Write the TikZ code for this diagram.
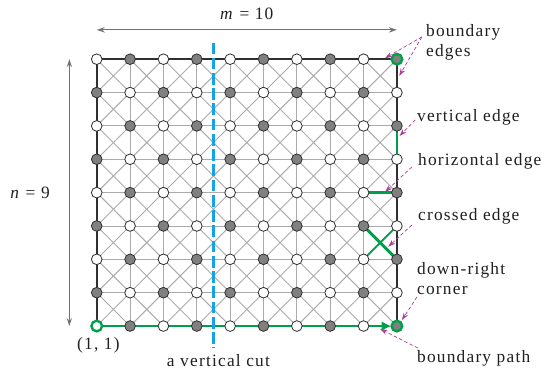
\documentclass[tikz,border=0pt]{standalone}
\usepackage{fontspec}
\setmainfont{Liberation Serif}
\newfontfamily\lblfont[LetterSpace=7]{Liberation Serif}
\usepackage{tikz}
\usetikzlibrary{calc,arrows.meta,positioning}
\definecolor{gridc}{HTML}{ABABAB}
\definecolor{vgray}{HTML}{808080}
\definecolor{inkc}{HTML}{303030}
\definecolor{textc}{HTML}{1F1F1F}
\definecolor{pathc}{HTML}{00A04B}
\definecolor{cutc}{HTML}{14A3E3}
\definecolor{notec}{HTML}{AC3F96}
\definecolor{dimc}{HTML}{727272}
\pgfdeclarelayer{bg}
\pgfsetlayers{bg,main}
\tikzset{
  vx/.style={circle,draw=inkc,line width=0.7pt,minimum size=3.2mm,inner sep=0pt,fill=white},
  vg/.style={vx,fill=vgray},
  ring/.style={draw=pathc,line width=2pt},
  gl/.style={gridc,line width=0.8pt},
  bd/.style={inkc,line width=2pt},
  gp/.style={pathc,line width=2.2pt},
  cut/.style={draw=cutc,line width=1.8pt,dash pattern=on 10pt off 3pt},
  pt/.style={-{Stealth[length=2.2mm,width=1.5mm]},notec,densely dashed,line width=0.6pt},
  dm/.style={{Stealth[length=2.4mm,width=1.6mm]}-{Stealth[length=2.4mm,width=1.6mm]},dimc,line width=1.1pt},
  lbl/.style={font=\lblfont\fontsize{14.8}{17}\selectfont,text=textc,inner sep=0pt,align=left}
}

\begin{document}
\begin{tikzpicture}[x=1cm,y=1cm]
\useasboundingbox (-2.9,-1.44) rectangle (13.35,9.775);
\foreach \i in {1,...,10}
  \foreach \j in {1,...,9} {
    \pgfmathtruncatemacro\pty{mod(\i+\j,2)}
    \ifnum\pty=0 \node[vx] (v-\i-\j) at (\i-1,\j-1) {};
    \else \node[vg] (v-\i-\j) at (\i-1,\j-1) {};
    \fi
  }
\node[vx,ring] (v-1-1) at (0,0) {};
\node[vg,ring] (v-10-1) at (9,0) {};
\node[vg,ring] (v-10-9) at (9,8) {};
\begin{pgfonlayer}{bg}
\foreach \j in {1,...,9} \draw[gl] (v-1-\j.center) -- (v-10-\j.center);
\foreach \i in {1,...,10} \draw[gl] (v-\i-1.center) -- (v-\i-9.center);
\foreach \i in {1,...,9}
  \foreach \j in {1,...,8} {
    \pgfmathtruncatemacro\inx{\i+1}
    \pgfmathtruncatemacro\jnx{\j+1}
    \draw[gl] (v-\i-\j.center) -- (v-\inx-\jnx.center);
    \draw[gl] (v-\inx-\j.center) -- (v-\i-\jnx.center);
  }
\draw[bd] (v-1-1.center) -- (v-1-9.center) -- (v-10-9.center) -- (v-10-1.center);
\draw[gp,-{Triangle[length=2.6mm,width=2.4mm]}] (v-1-1.center) -- (v-10-1);
\draw[gp] (v-10-7.center) -- (v-10-6.center);
\draw[gp] (v-9-5.center) -- (v-10-5.center);
\draw[gp,line width=2.6pt] (v-9-4.center) -- (v-10-3.center);
\draw[gp,line width=1.5pt] (v-10-4.center) -- (v-9-3.center);
\end{pgfonlayer}
\coordinate (cutT) at (3.5,8.5);
\coordinate (cutB) at (3.5,-0.66);
\draw[cut] (cutT) -- (cutB);
\draw[dm] ($(v-1-9)+(0,0.88)$) -- node[lbl,above=0.3] (mlab) {\textit{m} = 10} ($(v-10-9)+(0,0.88)$);
\draw[dm] ($(v-1-9)+(-0.82,0)$) -- ($(v-1-1)+(-0.82,0)$);
\node[lbl] (nlab) at (-2.0,4.0) {\textit{n} = 9};
\node[lbl] (origin) at (0.05,-0.57) {(1, 1)};
\node[lbl] (cutlab) at (3.65,-1.04) {a vertical cut};
\node[lbl,anchor=west] (bedge) at (9.87,8.5) {boundary\\edges};
\node[lbl,anchor=west] (vlab) at (9.6,6.27) {vertical edge};
\node[lbl,anchor=west] (hlab) at (9.63,4.93) {horizontal edge};
\node[lbl,anchor=west] (xlab) at (9.63,3.28) {crossed edge};
\node[lbl,anchor=west] (clab) at (9.6,1.42) {down-right\\corner};
\node[lbl,anchor=west] (plab) at (9.6,-0.96) {boundary path};
\draw[pt] ($(bedge.west)+(-0.12,0.17)$) -- ($(v-9-9)!0.645!(v-10-9)+(0,0.03)$);
\draw[pt] ($(bedge.west)+(-0.12,0.17)$) -- ($(v-10-9)!0.5!(v-10-8)+(0.07,0)$);
\draw[pt] ($(vlab.west)+(-0.05,-0.09)$) -- ($(v-10-7)!0.3!(v-10-6)+(0.08,0)$);
\draw[pt] ($(hlab.west)+(-0.18,-0.16)$) -- ($(v-9-5)!0.645!(v-10-5)+(0,0.02)$);
\draw[pt] ($(xlab.west)+(-0.18,-0.25)$) -- ($(v-9-4)!0.5!(v-10-3)+(0.24,-0.12)$);
\draw[pt] ($(clab.west)+(0,-0.55)$) -- ($(v-10-1)+(0.15,0.18)$);
\draw[pt] ($(plab.west)+(0.03,0.3)$) -- ($(v-9-1)!0.5!(v-10-1)+(0,-0.09)$);
\end{tikzpicture}
\end{document}
